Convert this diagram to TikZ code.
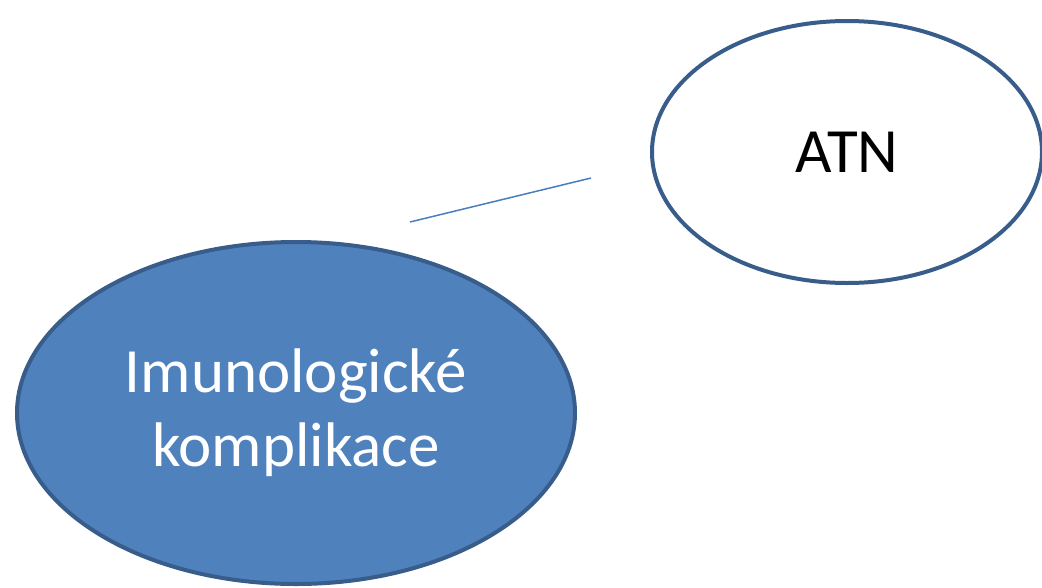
\documentclass[tikz,border=0pt]{standalone}
\usepackage{fontspec}
\setmainfont{Carlito}
\definecolor{fillblue}{HTML}{4F81BD}
\definecolor{edgeblue}{HTML}{385D8A}
\definecolor{lineblue}{HTML}{4A7EBB}
\usetikzlibrary{shapes.geometric}
\tikzset{
  bubble/.style={ellipse, draw=edgeblue, line width=4pt, inner sep=0pt},
}
\begin{document}
\begin{tikzpicture}[x=1pt,y=-1pt]
\useasboundingbox (0,0) rectangle (1042,587);
\node[bubble, fill=fillblue, minimum width=558pt, minimum height=342pt, text=white, align=center, font=\fontsize{63}{74}\selectfont] (imun) at (296,413) {Imunologické\\komplikace};
\node[bubble, fill=white, minimum width=390pt, minimum height=262pt, font=\fontsize{63}{76}\selectfont] (atn) at (847,152) {ATN};
\coordinate (la) at (410,222);
\coordinate (lb) at (591,178);
\draw[lineblue, line width=1.5pt] (la) -- (lb);
\end{tikzpicture}
\end{document}
